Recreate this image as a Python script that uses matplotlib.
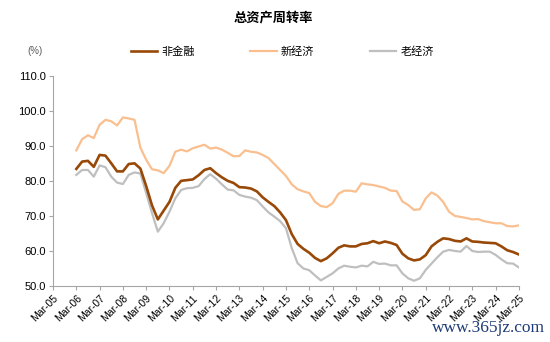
import numpy as np
import matplotlib.pyplot as plt

plt.rcParams['font.family'] = ['Liberation Sans', 'Noto Sans CJK SC', 'DejaVu Sans']

# quarterly total asset turnover (%), 2006Q1 - 2025Q1
non_fin = [83.4, 85.5, 85.7, 84.0, 87.4, 87.2, 85.0, 82.7, 82.7, 84.8, 85.0, 83.5,
           78.5, 73.0, 69.0, 71.5, 74.0, 78.0, 80.0, 80.2, 80.4, 81.6, 83.1, 83.6,
           82.2, 81.0, 80.0, 79.4, 78.2, 78.1, 77.8, 77.0, 75.3, 74.0, 72.8, 71.0,
           68.8, 64.8, 62.0, 60.6, 59.5, 58.0, 57.1, 57.9, 59.3, 60.9, 61.6, 61.3,
           61.3, 62.0, 62.2, 62.8, 62.2, 62.7, 62.3, 61.7, 59.2, 57.9, 57.3, 57.6,
           58.8, 61.3, 62.6, 63.6, 63.4, 62.9, 62.7, 63.6, 62.7, 62.6, 62.4, 62.3,
           62.2, 61.3, 60.2, 59.7, 59.0]
new_econ = [88.7, 91.9, 93.0, 92.2, 96.0, 97.4, 97.0, 95.8, 98.1, 97.8, 97.4, 89.5,
            86.0, 83.3, 83.0, 82.2, 84.3, 88.3, 88.9, 88.4, 89.3, 89.8, 90.3, 89.2,
            89.5, 88.9, 88.0, 87.0, 87.1, 88.7, 88.3, 88.1, 87.4, 86.5, 84.8, 83.1,
            81.4, 79.0, 77.6, 77.0, 76.5, 74.0, 72.8, 72.5, 73.6, 76.3, 77.2, 77.2,
            76.9, 79.3, 79.0, 78.8, 78.4, 78.0, 77.2, 77.1, 74.1, 73.1, 71.7, 71.9,
            75.0, 76.7, 75.8, 74.0, 71.2, 70.0, 69.7, 69.4, 69.0, 69.1, 68.5, 68.2,
            67.9, 67.9, 67.1, 67.0, 67.3]
old_econ = [81.7, 83.1, 83.1, 81.2, 84.4, 83.9, 81.2, 79.5, 79.1, 81.7, 82.4, 82.1,
            76.5, 70.8, 65.5, 67.9, 71.2, 75.0, 77.4, 77.9, 78.0, 78.5, 80.5, 81.9,
            80.6, 79.0, 77.5, 77.3, 76.0, 75.5, 75.2, 74.5, 72.7, 71.0, 69.8, 68.5,
            66.5, 60.8, 56.5, 55.0, 54.5, 53.0, 51.6, 52.6, 53.6, 55.0, 55.8, 55.5,
            55.3, 55.8, 55.6, 56.9, 56.3, 56.4, 55.9, 55.9, 53.6, 52.2, 51.5, 52.2,
            54.6, 56.4, 58.2, 59.8, 60.3, 60.0, 59.8, 61.4, 60.0, 59.7, 59.8, 59.8,
            58.9, 57.6, 56.5, 56.4, 55.3]

series_names = ['非金融', '新经济', '老经济']
colors = ['#984807', '#FABF8F', '#BFBFBF']
tick_labels = ['Mar-%02d' % y for y in range(5, 26)]

fig = plt.figure(figsize=(5.5, 3.42), dpi=100)
ax = fig.add_axes([0.0964, 0.1637, 0.847, 0.615])

# x in years since Mar-05, first point is Mar-06
x = 1 + np.arange(len(non_fin)) / 4.0
lines = []
for vals, c, lw in zip([non_fin, new_econ, old_econ], colors, [1.9, 1.6, 1.6]):
    ln, = ax.plot(x, vals, color=c, lw=lw, solid_joinstyle='round')
    lines.append(ln)
# keep the dark line on top
lines[0].set_zorder(5)

ax.set_xlim(0, 20)
ax.set_ylim(50, 110)
ax.set_yticks(np.arange(50, 111, 10))
ax.set_yticklabels(['%.1f' % v for v in np.arange(50, 111, 10)], fontsize=8)
ax.set_xticks(range(21))
ax.set_xticklabels(tick_labels, rotation=45, ha='right', rotation_mode='anchor', fontsize=7.5)

for s in ['top', 'right']:
    ax.spines[s].set_visible(False)
for s in ['left', 'bottom']:
    ax.spines[s].set_color('#A6A6A6')
    ax.spines[s].set_linewidth(0.8)
ax.tick_params(axis='both', direction='out', length=3, width=0.8, color='#A6A6A6', pad=2)

fig.text(0.497, 0.95, '总资产周转率', ha='center', va='center', fontsize=9.5,
         fontweight='bold', family=['Noto Sans CJK SC', 'DejaVu Sans'])
fig.text(0.05, 0.85, '(%)', ha='left', va='center', fontsize=7, color='#595959')

fig.legend(lines, series_names, loc='center', bbox_to_anchor=(0.513, 0.85), ncol=3,
           frameon=False, prop={'family': ['Noto Sans CJK SC', 'DejaVu Sans'], 'size': 8},
           handlelength=2.4, handletextpad=0.35, columnspacing=5.0)

fig.text(0.99, 0.04, 'www.365jz.com', ha='right', va='center', fontsize=12.5,
         color='#1F3C78', family=['Liberation Serif', 'DejaVu Serif'])

fig.savefig('out.png', dpi=100)
